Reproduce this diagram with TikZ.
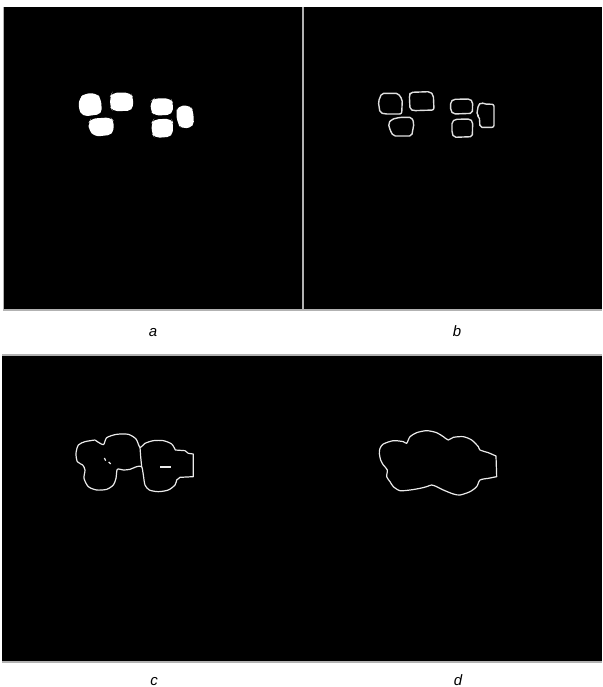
\documentclass[tikz,border=0pt]{standalone}
\usepackage{fontspec}
\setmainfont{Liberation Sans}
\usetikzlibrary{positioning}

\begin{document}
\begin{tikzpicture}[
  x=1pt, y=-1pt,
  panel/.style={fill=black},
  rim/.style={draw=black!30, line width=1.2pt},
  blob/.style={fill=white, rounded corners=5pt},
  outline/.style={draw=black!12, line width=1.4pt, line join=round, rounded corners=2pt},
  contour/.style={draw=black!8, line width=1.2pt, line join=round},
  caption/.style={font=\fontsize{15}{18}\selectfont\itshape, anchor=base}
]
\useasboundingbox (0,0) rectangle (602,687);

% four black panels
\fill[panel] (4,7) rectangle (303,310);
\fill[panel] (303,7) rectangle (602,310);
\fill[panel] (2,355) rectangle (303,662);
\fill[panel] (303,355) rectangle (602,662);
\draw[rim] (3.5,7) -- (3.5,310) -- (602,310);
\draw[rim] (303,7) -- (303,310);
\draw[rim] (2,355) -- (602,355);
\draw[rim] (2,662) -- (602,662);

% a: filled objects
\begin{scope}[shift={(60,80)}, scale=1/3]
  \fill[blob] (75,40) -- (110,40) -- (123,56) -- (126,102) -- (68,110) -- (55,85) -- (58,54) -- cycle;
  \fill[blob] (156,38) -- (212,38) -- (220,54) -- (218,92) -- (158,94) -- (150,80) -- (151,48) -- cycle;
  \fill[blob] (93,116) -- (152,112) -- (162,124) -- (159,164) -- (104,170) -- (86,150) -- (86,128) -- cycle;
  \fill[blob] (283,55) -- (332,55) -- (340,70) -- (337,104) -- (284,107) -- (271,92) -- (273,63) -- cycle;
  \fill[blob] (281,118) -- (334,116) -- (340,130) -- (337,170) -- (284,174) -- (275,160) -- (275,128) -- cycle;
  \fill[blob] (353,78) -- (392,76) -- (400,95) -- (402,140) -- (364,147) -- (353,130) -- (348,100) -- cycle;
\end{scope}

% b: object edges
\begin{scope}[shift={(360,80)}, scale=1/3]
  \draw[outline] (65,40) -- (115,40) -- (120,50) -- (127,58) -- (125,102) -- (75,102) -- (60,98) -- (55,65) -- cycle;
  \draw[outline] (152,37) -- (210,35) -- (220,45) -- (222,90) -- (160,92) -- (150,88) -- (148,45) -- cycle;
  \draw[outline] (95,118) -- (120,112) -- (155,112) -- (162,130) -- (155,168) -- (100,168) -- (90,150) -- (85,130) -- cycle;
  \draw[outline] (280,58) -- (330,57) -- (338,65) -- (337,100) -- (280,102) -- (272,92) -- (272,65) -- cycle;
  \draw[outline] (285,118) -- (330,117) -- (338,125) -- (337,170) -- (282,172) -- (276,160) -- (276,125) -- cycle;
  \draw[outline] (355,75) -- (363,67) -- (372,72) -- (402,73) -- (402,142) -- (360,142) -- (358,110) -- (350,105) -- cycle;
\end{scope}

% c: merged edges after first dilation
\begin{scope}[shift={(60,420)}, scale=1/3]
  \draw[contour] plot[smooth, tension=0.45] coordinates {
    (105,60) (130,74) (140,53) (170,43) (205,43) (228,57) (240,82)
    (255,70) (280,62) (310,62) (335,72) (346,90)}
    -- (375,92) -- (385,100) -- (400,102) -- (400,170) -- (360,172)
    -- plot[smooth, tension=0.45] coordinates {(350,180) (345,195) (325,210) (295,215)
    (268,210) (255,195) (250,165) (245,140) (230,140) (210,148) (190,150) (172,148)
    (168,175) (160,195) (140,208) (110,210) (85,200) (72,175) (75,150)
    (68,135) (52,125) (48,100) (55,75) (75,65) (105,60)};
  \draw[contour] (240,82) -- (242,110) -- (245,140);
  \draw[contour] (133,114) -- (137,122);
  \draw[contour] (146,126) -- (152,132);
  \draw[contour, line width=2pt] (300,140) -- (332,140);
\end{scope}

% d: single merged edge
\begin{scope}[shift={(360,420)}, scale=1/3]
  \draw[contour] plot[smooth, tension=0.45] coordinates {
    (385,98) (360,90) (355,80) (335,60) (310,50) (280,52) (265,60) (250,50)
    (230,38) (200,32) (170,38) (150,50) (140,70) (130,65) (100,62) (70,72)
    (60,85) (58,100) (62,120) (70,135) (82,150) (80,170) (90,185) (100,200)
    (120,212) (150,210) (180,205) (200,200) (215,195) (230,200) (250,210)
    (280,222) (300,225) (330,215) (350,200) (360,180) (385,175)}
    -- (410,170) -- (408,108) -- cycle;
\end{scope}

% captions
\node[caption] (capa) at (153,336) {a};
\node[caption] (capb) at (457,336) {b};
\node[caption] (capc) at (154,685) {c};
\node[caption] (capd) at (458,685) {d};
\end{tikzpicture}
\end{document}
